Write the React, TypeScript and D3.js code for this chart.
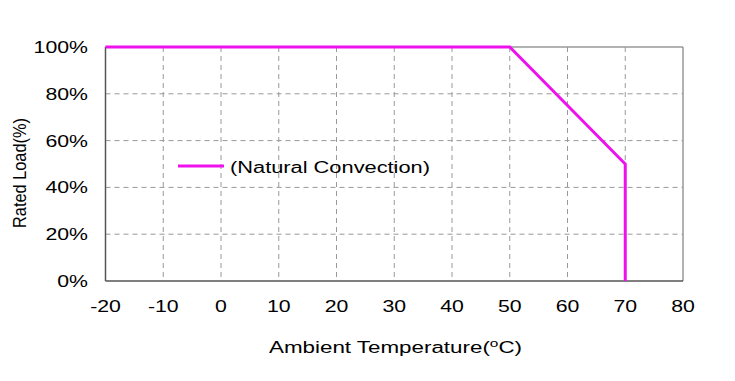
import React from "react";
import * as d3 from "d3";

const xTicks = [-20, -10, 0, 10, 20, 30, 40, 50, 60, 70, 80];
const yTicks = [0, 20, 40, 60, 80, 100];
const temps = [-20, 50, 70, 70];
const loads = [100, 100, 50, 0];
const seriesName = "(Natural Convection)";

export default function App() {
  const W = 735, H = 381;
  const L = 105.5, R = 683, T = 47, B = 281;
  const x = d3.scaleLinear().domain([-20, 80]).range([L, R]);
  const y = d3.scaleLinear().domain([0, 100]).range([B, T]);
  const line = d3.line<number>().x((d, i) => x(temps[i])).y((d) => y(d));
  const font = "Liberation Sans, Arial, sans-serif";
  const magenta = "#ee11ee";
  const sx = 1.33;
  return (
    <svg width={W} height={H} style={{ position: "absolute", left: 0, top: 0 }} fontFamily={font}>
      <rect width={W} height={H} fill="#fff" />
      {xTicks.slice(1, -1).map((t) => (
        <line key={"gx" + t} x1={x(t)} x2={x(t)} y1={T} y2={B} stroke="#999" strokeWidth={1} strokeDasharray="5,4" />
      ))}
      {yTicks.slice(1, -1).map((t) => (
        <line key={"gy" + t} x1={L} x2={R} y1={y(t)} y2={y(t)} stroke="#999" strokeWidth={1} strokeDasharray="5,4" />
      ))}
      <line x1={L} x2={R} y1={T} y2={T} stroke="#999" strokeWidth={1.5} />
      <line x1={R} x2={R} y1={T} y2={B} stroke="#999" strokeWidth={1.5} />
      <line x1={L} x2={L} y1={T} y2={B} stroke="#555" strokeWidth={1.5} />
      <line x1={L} x2={R} y1={B} y2={B} stroke="#555" strokeWidth={1.5} />
      {yTicks.map((t) => (
        <text key={"ty" + t} transform={`translate(88,${y(t) + 6}) scale(${sx},1)`} textAnchor="end" fontSize={16} fill="#000">{t}%</text>
      ))}
      {xTicks.map((t) => (
        <text key={"tx" + t} transform={`translate(${x(t)},312) scale(${sx},1)`} textAnchor="middle" fontSize={16} fill="#000">{t}</text>
      ))}
      <path d={line(loads) || ""} fill="none" stroke={magenta} strokeWidth={3} strokeLinejoin="miter" />
      <line x1={178} x2={224} y1={166} y2={166} stroke={magenta} strokeWidth={3} />
      <text x={230} y={173} fontSize={16} fill="#000" textLength={200} lengthAdjust="spacingAndGlyphs">{seriesName}</text>
      <text transform="translate(26,173) rotate(-90) scale(1,1.1)" x={-55} fontSize={16} fill="#000" textLength={110} lengthAdjust="spacingAndGlyphs">Rated Load(%)</text>
      <text x={269} y={353} fontSize={16} fill="#000" textLength={253} lengthAdjust="spacingAndGlyphs">
        Ambient Temperature(<tspan fontSize={11} dy={-6}>o</tspan><tspan dy={6}>C)</tspan>
      </text>
    </svg>
  );
}
